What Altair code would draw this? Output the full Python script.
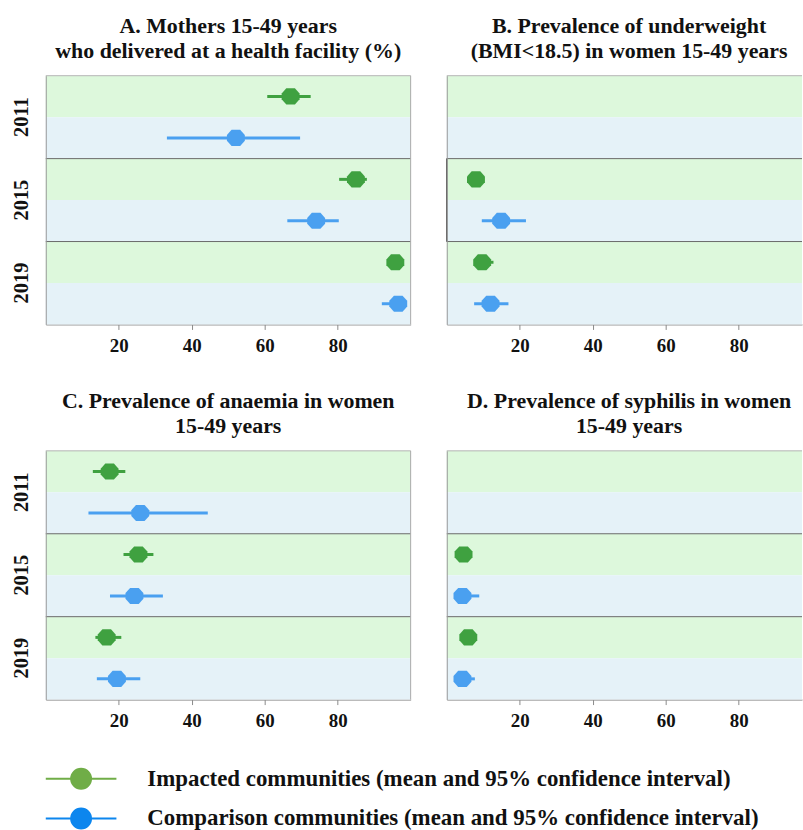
import altair as alt
import pandas as pd

# ---- data -------------------------------------------------------------
years = ["2011", "2015", "2019"]
groups = [
    "Impacted communities (mean and 95% confidence interval)",
    "Comparison communities (mean and 95% confidence interval)",
]

panel_titles = {
    "A": ["A. Mothers 15-49 years", "who delivered at a health facility (%)"],
    "B": ["B. Prevalence of underweight", "(BMI<18.5) in women 15-49 years"],
    "C": ["C. Prevalence of anaemia in women", "15-49 years"],
    "D": ["D. Prevalence of syphilis in women", "15-49 years"],
}

# mean / lower / upper 95% CI per year (2011, 2015, 2019); None = not surveyed
a_imp_mean = [67.1, 85.0, 95.8]
a_imp_lo = [60.7, 80.4, 94.4]
a_imp_hi = [72.6, 88.0, 97.2]
a_cmp_mean = [52.1, 74.1, 96.6]
a_cmp_lo = [33.2, 66.2, 92.1]
a_cmp_hi = [69.7, 80.3, 98.6]

b_imp_mean = [None, 8.0, 9.7]
b_imp_lo = [None, 6.3, 7.6]
b_imp_hi = [None, 9.9, 12.8]
b_cmp_mean = [None, 14.9, 12.0]
b_cmp_lo = [None, 9.6, 7.5]
b_cmp_hi = [None, 21.7, 16.9]

c_imp_mean = [17.5, 25.4, 16.7]
c_imp_lo = [12.9, 21.3, 13.6]
c_imp_hi = [21.8, 29.5, 20.7]
c_cmp_mean = [25.9, 24.3, 19.5]
c_cmp_lo = [11.7, 17.6, 14.0]
c_cmp_hi = [44.4, 32.1, 25.9]

d_imp_mean = [None, 4.6, 5.9]
d_imp_lo = [None, 3.2, 4.4]
d_imp_hi = [None, 6.1, 7.3]
d_cmp_mean = [None, 4.3, 4.3]
d_cmp_lo = [None, 2.4, 2.5]
d_cmp_hi = [None, 8.9, 7.7]

x_ticks = [20, 40, 60, 80]

series = {
    "A": [(a_imp_mean, a_imp_lo, a_imp_hi), (a_cmp_mean, a_cmp_lo, a_cmp_hi)],
    "B": [(b_imp_mean, b_imp_lo, b_imp_hi), (b_cmp_mean, b_cmp_lo, b_cmp_hi)],
    "C": [(c_imp_mean, c_imp_lo, c_imp_hi), (c_cmp_mean, c_cmp_lo, c_cmp_hi)],
    "D": [(d_imp_mean, d_imp_lo, d_imp_hi), (d_cmp_mean, d_cmp_lo, d_cmp_hi)],
}

# year block drawn with a dark left edge in a panel
boxed_year = {"B": "2015"}

rows = []
for key, pairs in series.items():
    for grp, (means, los, his) in zip(groups, pairs):
        for yr, m, lo, hi in zip(years, means, los, his):
            if m is not None:
                rows.append({"panel": key, "year": yr, "group": grp,
                             "mean": m, "lo": lo, "hi": hi})
estimates = pd.DataFrame(rows)

bands = pd.DataFrame([{"year": y, "group": g} for y in years for g in groups])
top_edge = pd.DataFrame({"year": years[:1]})
year_breaks = pd.DataFrame({"year": years[1:]})
right_edge = pd.DataFrame({"xv": [100]})
legend_keys = pd.DataFrame({"year": years[:0], "group": groups[:0]})

# ---- styling ----------------------------------------------------------
FONT = "Liberation Serif"
band_colors = ["#ddf8dc", "#e5f2f8"]
mark_colors = ["#3fa140", "#4aa0f0"]
legend_colors = ["#70ad47", "#0c86ee"]

octagon = "M-1,-0.32L-0.48,-0.9L0.48,-0.9L1,-0.32L1,0.32L0.48,0.9L-0.48,0.9L-1,0.32Z"

# legend key: a line through a solid dot (concentric rings fill the dot)
rings = "".join(
    f"M{r},0A{r},{r},0,1,1,-{r},0A{r},{r},0,1,1,{r},0"
    for r in [1.0, 0.8, 0.6, 0.4, 0.2, 0.05]
)
legend_symbol = "M-3.55,0L3.55,0" + rings

PX_PER_UNIT = 366.7 / 100.0

# mark colour scale is listed in reverse so it is kept apart from the legend scale
mark_scale = alt.Scale(domain=groups[::-1], range=mark_colors[::-1])


def panel(key, width, show_years, draw_right, title_dx, with_legend):
    xmax = width / PX_PER_UNIT
    x_axis = alt.Axis(values=x_ticks, grid=False, title=None, domainColor="#8a8a8a",
                      tickColor="#8a8a8a", tickSize=5, labelPadding=7,
                      labelFont=FONT, labelFontSize=19, labelFontWeight="bold",
                      labelColor="#111111")
    x_scale = alt.Scale(domain=[0, xmax], nice=False, zero=False)
    y_axis = alt.Axis(title=None, ticks=False, tickSize=0, domainColor="#9a9a9a",
                      labels=show_years, labelAngle=-90, labelAlign="center",
                      labelBaseline="alphabetic", labelPadding=18,
                      labelFont=FONT, labelFontSize=20.5, labelFontWeight="bold",
                      labelColor="#111111")
    y_scale = alt.Scale(domain=years, paddingInner=0, paddingOuter=0)

    def Y(**kw):
        return alt.Y("year:O", scale=y_scale, axis=y_axis, **kw)

    yoff = alt.YOffset("group:N", scale=alt.Scale(domain=groups, paddingInner=0, paddingOuter=0))
    group_color = alt.Color("group:N", scale=mark_scale, legend=None)

    layers = [
        alt.Chart(bands).mark_rect().encode(
            y=Y(), yOffset=yoff,
            color=alt.condition(alt.datum.group == groups[0],
                                alt.value(band_colors[0]), alt.value(band_colors[1]))),
        alt.Chart(top_edge).mark_rule(color="#b4b4b4", strokeWidth=1).encode(
            y=Y(bandPosition=0)),
        alt.Chart(year_breaks).mark_rule(color="#6a6a6a", strokeWidth=1).encode(
            y=Y(bandPosition=0)),
    ]
    if draw_right:
        layers.append(
            alt.Chart(right_edge).mark_rule(color="#a8a8a8", strokeWidth=1).encode(
                x=alt.X("xv:Q", scale=x_scale, axis=x_axis)))
    if key in boxed_year:
        layers.append(
            alt.Chart(pd.DataFrame({"year": [boxed_year[key]]}))
            .mark_rect(fillOpacity=0, stroke="#555555", strokeWidth=1)
            .encode(x=alt.datum(0, scale=x_scale, axis=x_axis), x2=alt.datum(0), y=Y()))

    data = estimates[estimates["panel"] == key]
    layers.append(
        alt.Chart(data).mark_rule(strokeWidth=3).encode(
            x=alt.X("lo:Q", scale=x_scale, axis=x_axis), x2="hi:Q",
            y=Y(), yOffset=yoff, color=group_color))
    layers.append(
        alt.Chart(data).mark_point(shape=octagon, filled=True, size=324, opacity=1).encode(
            x=alt.X("mean:Q", scale=x_scale, axis=x_axis),
            y=Y(), yOffset=yoff, color=group_color))

    if with_legend:
        legend = alt.Legend(title=None, orient="none", legendX=24, legendY=695,
                            direction="vertical", symbolType=legend_symbol,
                            symbolSize=400, symbolStrokeWidth=2, labelOffset=55,
                            labelFont=FONT, labelFontSize=23, labelFontWeight="bold",
                            labelColor="#111111", labelLimit=900, rowPadding=11)
        layers.append(
            alt.Chart(legend_keys).mark_rule(strokeWidth=2).encode(
                y=Y(), yOffset=yoff,
                stroke=alt.Stroke("group:N",
                                  scale=alt.Scale(domain=groups, range=legend_colors),
                                  legend=legend)))

    return alt.layer(*layers).properties(
        width=width, height=250,
        title=alt.TitleParams(panel_titles[key], font=FONT, fontSize=22,
                              fontWeight="bold", color="#111111", lineHeight=25.5,
                              anchor="middle", frame="group", offset=12, dx=title_dx),
    )


left_w = 366.7
right_w = 357.0

row1 = alt.hconcat(panel("A", left_w, True, True, 0, False),
                   panel("B", right_w, False, False, 4.7, False), spacing=34)
row2 = alt.hconcat(panel("C", left_w, True, True, 0, True),
                   panel("D", right_w, False, False, 4.7, False), spacing=34)

chart = alt.vconcat(row1, row2, spacing=33).properties(
    padding={"left": 11, "top": 12, "right": 0, "bottom": 0},
    background="white",
).configure_view(stroke="transparent")

chart.save("out.html", embed_options={"renderer": "svg", "actions": False})
